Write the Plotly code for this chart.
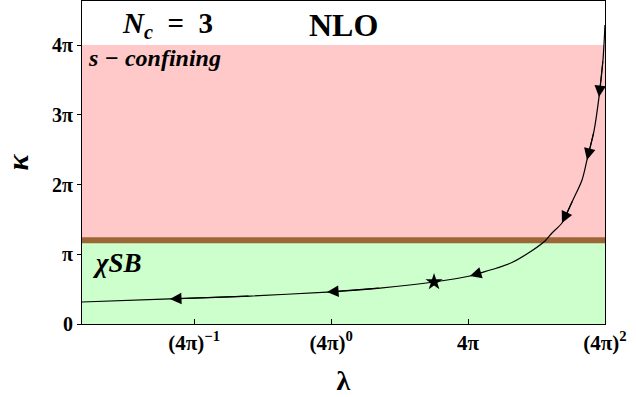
import numpy as np
import plotly.graph_objects as go

PI = np.pi
FOURPI = 4 * PI

# RG flow curve (lambda on log axis, kappa linear), ordered along the flow
lam = [157.8, 152.1, 141.3, 128.8, 113.2, 103.3, 87.3, 71.3, 59.3, 52.1,
       41.7, 28.8, 21.4, 15.7, 13.0, 6.70, 2.47, 0.927, 0.223, 0.0508, 0.01]
kap = [13.47, 11.89, 10.22, 8.69, 7.39, 6.49, 5.585, 4.549, 4.099, 3.738,
       3.333, 2.793, 2.522, 2.297, 2.162, 1.892, 1.62, 1.44, 1.26, 1.13, 0.99]

# indices of curve points carrying an arrowhead
arrow_idx = [2, 4, 7, 14, 17, 19]

# fixed point (star)
star_lam = [6.70]
star_kap = [1.892]

# phase boundaries
kappa_boundary = 1.2 * PI
kappa_top_region = 4 * PI

x_tickvals = [FOURPI ** -1, 1.0, FOURPI, FOURPI ** 2]
x_ticktext = ["<b>(4π)<sup>−1</sup></b>", "<b>(4π)<sup>0</sup></b>", "<b>4π</b>",
              "<b>(4π)<sup>2</sup></b>"]
y_tickvals = [0, PI, 2 * PI, 3 * PI, 4 * PI]
y_ticktext = ["<b>0</b>", "<b>π</b>", "<b>2π</b>", "<b>3π</b>", "<b>4π</b>"]

SERIF = "Liberation Serif"

fig = go.Figure()

fig.add_trace(go.Scatter(x=lam, y=kap, mode="lines",
                         line=dict(color="black", width=1.2, shape="spline", smoothing=0.8),
                         showlegend=False, hoverinfo="skip"))
fig.add_trace(go.Scatter(x=star_lam, y=star_kap, mode="markers",
                         marker=dict(symbol="star", size=13, color="black"),
                         showlegend=False))

# background regions
fig.add_shape(type="rect", xref="paper", x0=0, x1=1, yref="y",
              y0=kappa_boundary, y1=kappa_top_region,
              fillcolor="#FFC9C9", line_width=0, layer="below")
fig.add_shape(type="rect", xref="paper", x0=0, x1=1, yref="y",
              y0=0, y1=kappa_boundary,
              fillcolor="#CCFFCC", line_width=0, layer="below")
fig.add_shape(type="line", xref="paper", x0=0, x1=1, yref="y",
              y0=kappa_boundary, y1=kappa_boundary,
              line=dict(color="#9C6636", width=6), layer="below")

annotations = []
for i in arrow_idx:
    annotations.append(dict(
        x=np.log10(lam[i]), y=kap[i], xref="x", yref="y",
        ax=np.log10(lam[i - 1]), ay=kap[i - 1], axref="x", ayref="y",
        text="", showarrow=True, arrowhead=2, arrowsize=2.1,
        arrowwidth=1.1, arrowcolor="black"))

annotations += [
    dict(x=0.163, y=0.925, xref="paper", yref="paper", xanchor="center", yanchor="middle",
         text="<b><i>N</i><sub><i>c</i></sub>  =  3</b>", showarrow=False,
         font=dict(family=SERIF, size=29, color="black")),
    dict(x=0.5, y=0.926, xref="paper", yref="paper", xanchor="center", yanchor="middle",
         text="<b>NLO</b>", showarrow=False,
         font=dict(family=SERIF, size=32, color="black")),
    dict(x=0.008, y=0.824, xref="paper", yref="paper", xanchor="left", yanchor="middle",
         text="<b><i>s − confining</i></b>", showarrow=False,
         font=dict(family=SERIF, size=24, color="black")),
    dict(x=0.016, y=0.188, xref="paper", yref="paper", xanchor="left", yanchor="middle",
         text="<b><i>χSB</i></b>", showarrow=False,
         font=dict(family=SERIF, size=27, color="black")),
]

fig.update_layout(
    width=636, height=397,
    margin=dict(l=82, r=31, t=1, b=73),
    paper_bgcolor="white", plot_bgcolor="white",
    annotations=annotations,
    font=dict(family=SERIF, color="black"),
)

fig.update_xaxes(
    type="log", range=[-2.0, np.log10(FOURPI ** 2)],
    tickvals=x_tickvals, ticktext=x_ticktext,
    ticks="inside", ticklen=5, tickcolor="black",
    showgrid=False, zeroline=False,
    showline=True, linecolor="black", linewidth=1.2, mirror=True,
    tickfont=dict(family=SERIF, size=21, color="black"),
    title=dict(text="<b>λ</b>", font=dict(family=SERIF, size=28), standoff=16),
)
fig.update_yaxes(
    range=[0, 14.55],
    tickvals=y_tickvals, ticktext=y_ticktext,
    ticks="outside", ticklen=4, tickcolor="black",
    showgrid=False, zeroline=False,
    showline=True, linecolor="black", linewidth=1.2, mirror=True,
    tickfont=dict(family=SERIF, size=20, color="black"),
    title=dict(text="<b><i>κ</i></b>", font=dict(family=SERIF, size=30), standoff=14),
)

fig.write_html("out.html", config={"displayModeBar": False},
               post_script="document.body.style.margin='0';")
